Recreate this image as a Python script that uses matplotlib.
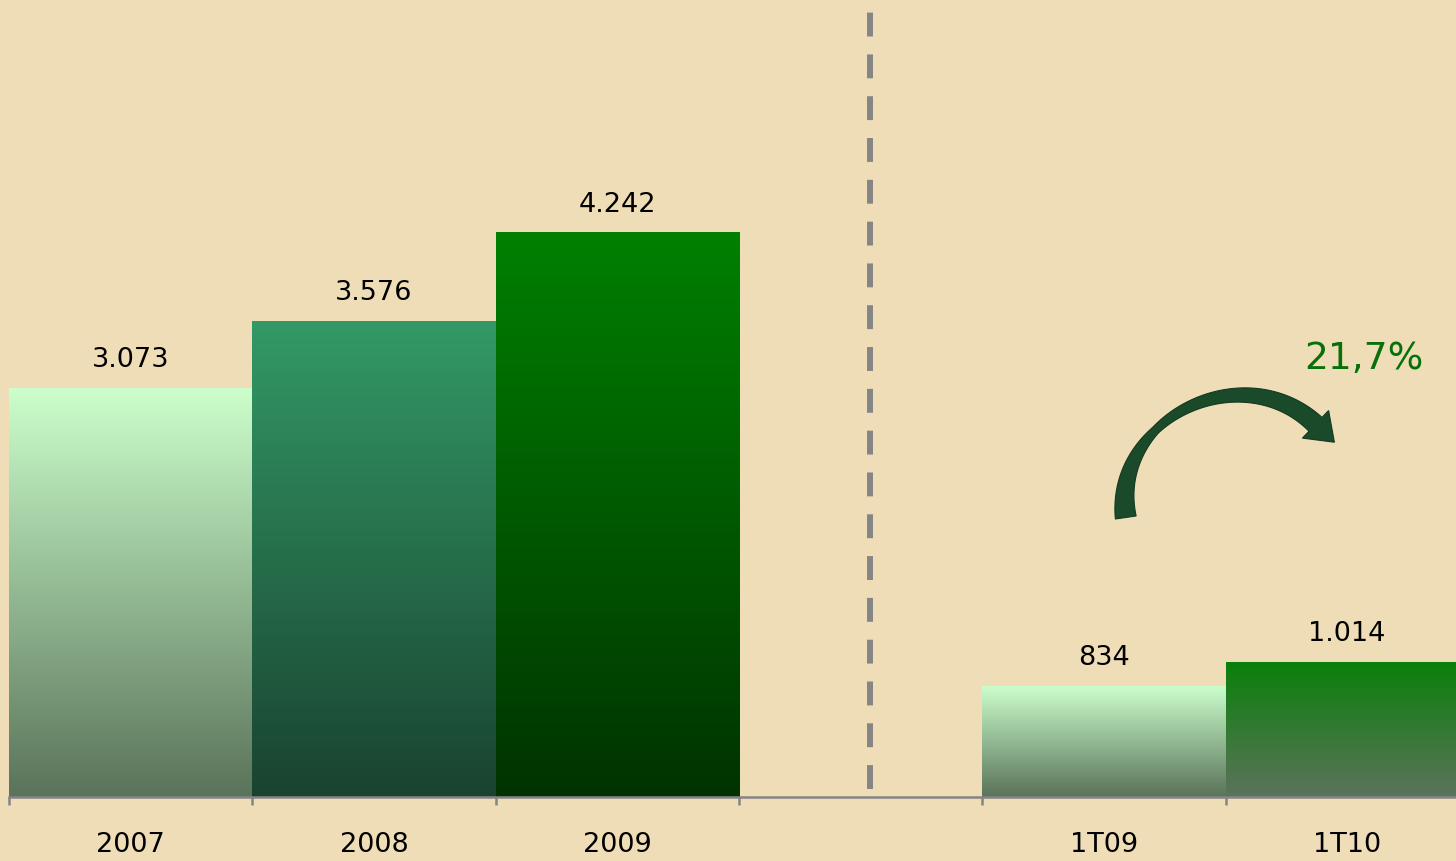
import numpy as np
import matplotlib.pyplot as plt
from matplotlib.colors import LinearSegmentedColormap
from matplotlib.patches import Polygon
from matplotlib.transforms import IdentityTransform

# data
categories = ['2007', '2008', '2009', '', '1T09', '1T10']
values = [3073, 3576, 4242, None, 834, 1014]
value_labels = ['3.073', '3.576', '4.242', '', '834', '1.014']
growth_label = '21,7%'

# (top colour, bottom colour) per bar
grads = [('#CCFFCC', '#5A735A'),
         ('#339966', '#194330'),
         ('#008000', '#003300'),
         None,
         ('#CCFFCC', '#5A735A'),
         ('#0A800A', '#5C735C')]

bg = '#EFDDB7'
grey = '#858585'
W, H = 1456, 861

fig = plt.figure(figsize=(W / 100, H / 100), dpi=100, facecolor=bg)
ax = fig.add_axes([9 / W, 1 - 797 / H, 1 - 9 / W, 797 / H])
ax.set_facecolor(bg)

x = np.arange(len(categories))
grad = np.linspace(0, 1, 256).reshape(-1, 1)
for i, (v, g) in enumerate(zip(values, grads)):
    if v is None:
        continue
    bar = ax.bar(x[i], v, width=1.0, color='none', edgecolor='none')[0]
    cmap = LinearSegmentedColormap.from_list('g%d' % i, [g[1], g[0]])
    im = ax.imshow(grad, cmap=cmap, origin='lower', aspect='auto',
                   extent=[x[i] - 0.5, x[i] + 0.5, 0, v], zorder=2)
    im.set_clip_path(bar)
    ax.annotate(value_labels[i], (x[i], v), xytext=(0, 20),
                textcoords='offset points', ha='center', va='center',
                fontsize=19.5, color='black')

# axes styling
for s in ['left', 'right', 'top']:
    ax.spines[s].set_visible(False)
ax.spines['bottom'].set_color(grey)
ax.spines['bottom'].set_linewidth(1.8)
ax.set_yticks([])
ax.set_xticks(x)
ax.set_xticklabels(categories, fontsize=19.5)
ax.tick_params(axis='x', which='major', length=0, pad=25)
ax.set_xticks(np.arange(-0.5, len(categories), 1.0), minor=True)
ax.tick_params(axis='x', which='minor', length=6, width=1.8, color=grey,
               direction='out')

ax.set_xlim(-0.5, -0.5 + (W - 9) / 243.3)
ax.set_ylim(0, 797 / 0.1331)

# separator between years and quarters
ax.plot([3.04, 3.04], [60, 5950], color=grey, lw=4.3,
        linestyle=(0, (4, 3)), solid_capstyle='butt', dash_capstyle='butt')

ax.text(5.07, 3290, growth_label, ha='center', va='center',
        fontsize=27, color='#087008')

# curved growth arrow (tapered), built in pixel space
def px(xd, yd):
    return np.array(ax.transData.transform((xd, yd)))

P0, P1, P2, P3 = px(4.09, 2100), px(4.03, 2850), px(4.57, 3320), px(4.87, 2800)
t = np.linspace(0, 1, 120)[:, None]
c = ((1 - t) ** 3) * P0 + 3 * ((1 - t) ** 2) * t * P1 + 3 * (1 - t) * t ** 2 * P2 + t ** 3 * P3
d = 3 * ((1 - t) ** 2) * (P1 - P0) + 6 * (1 - t) * t * (P2 - P1) + 3 * t ** 2 * (P3 - P2)
tang = d / np.linalg.norm(d, axis=1, keepdims=True)
nrm = np.column_stack([-tang[:, 1], tang[:, 0]])
tt = t[:, 0]
w = np.interp(tt, [0, 0.35, 0.75, 1.0], [21, 8, 15, 19]) / 2
left = c + nrm * w[:, None]
right = c - nrm * w[:, None]
tip = c[-1] + tang[-1] * 26
hb1 = c[-1] + nrm[-1] * 19
hb2 = c[-1] - nrm[-1] * 19
poly = np.vstack([left, hb1, tip, hb2, right[::-1]])
fig.add_artist(Polygon(poly, closed=True, transform=IdentityTransform(),
                       facecolor='#1B4A2A', edgecolor='#123A20', lw=0.8,
                       zorder=5))

fig.savefig('out.png', dpi=100, facecolor=bg)
